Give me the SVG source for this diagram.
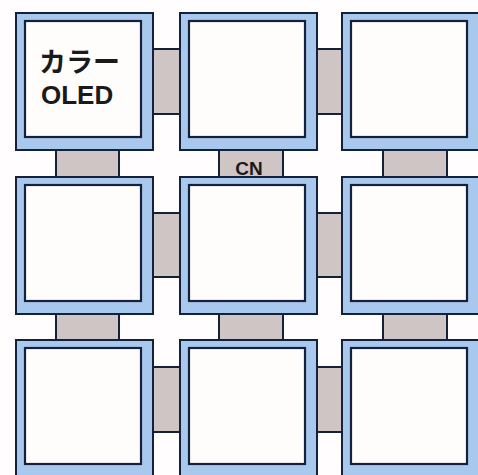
<svg xmlns="http://www.w3.org/2000/svg" width="478" height="475" viewBox="0 0 478 475">
<style>
.frame{fill:#a9c8ee;stroke:#15203a;stroke-width:2}
.screen{fill:#fffdfb;stroke:#15203a;stroke-width:2.2}
.cn{fill:#cfc5c5}
.edge{stroke:#15203a;stroke-width:2;fill:none}
.lbl{font-family:"Liberation Sans","Noto Sans CJK JP",sans-serif;fill:#1a1a1a}
</style>
<defs>
<g id="tile">
<rect class="frame" x="0" y="0" width="137" height="137"/>
<rect class="screen" x="9" y="8" width="116" height="116"/>
</g>
</defs>
<rect x="0" y="0" width="478" height="475" fill="#fffdfd"/>
<g id="connectors">
<rect class="cn" x="153" y="49" width="27" height="65"/>
<path class="edge" d="M153 49H180M153 114H180"/>
<rect class="cn" x="317" y="49" width="25" height="65"/>
<path class="edge" d="M317 49H342M317 114H342"/>
<rect class="cn" x="153" y="213" width="27" height="64"/>
<path class="edge" d="M153 213H180M153 277H180"/>
<rect class="cn" x="317" y="213" width="25" height="64"/>
<path class="edge" d="M317 213H342M317 277H342"/>
<rect class="cn" x="153" y="367" width="27" height="65"/>
<path class="edge" d="M153 367H180M153 432H180"/>
<rect class="cn" x="317" y="367" width="25" height="65"/>
<path class="edge" d="M317 367H342M317 432H342"/>
<rect class="cn" x="56" y="150" width="63" height="27"/>
<path class="edge" d="M56 150V177M119 150V177"/>
<rect class="cn" x="219" y="150" width="64" height="27"/>
<path class="edge" d="M219 150V177M283 150V177"/>
<rect class="cn" x="383" y="150" width="64" height="27"/>
<path class="edge" d="M383 150V177M447 150V177"/>
<rect class="cn" x="56" y="314" width="63" height="26"/>
<path class="edge" d="M56 314V340M119 314V340"/>
<rect class="cn" x="219" y="314" width="64" height="26"/>
<path class="edge" d="M219 314V340M283 314V340"/>
<rect class="cn" x="383" y="314" width="64" height="26"/>
<path class="edge" d="M383 314V340M447 314V340"/>
<text class="lbl" x="249" y="175" font-size="19" font-weight="bold" text-anchor="middle">CN</text>
</g>
<g id="n11"><use href="#tile" x="16" y="13"/>
<text class="lbl" x="39" y="72" font-size="27" font-weight="bold">カラー</text>
<text class="lbl" x="41" y="104" font-size="26" font-weight="bold">OLED</text>
</g>
<g id="n12"><use href="#tile" x="180" y="13"/></g>
<g id="n13"><use href="#tile" x="342" y="13"/></g>
<g id="n21"><use href="#tile" x="16" y="177"/></g>
<g id="n22"><use href="#tile" x="180" y="177"/></g>
<g id="n23"><use href="#tile" x="342" y="177"/></g>
<g id="n31"><use href="#tile" x="16" y="340"/></g>
<g id="n32"><use href="#tile" x="180" y="340"/></g>
<g id="n33"><use href="#tile" x="342" y="340"/></g>
</svg>
